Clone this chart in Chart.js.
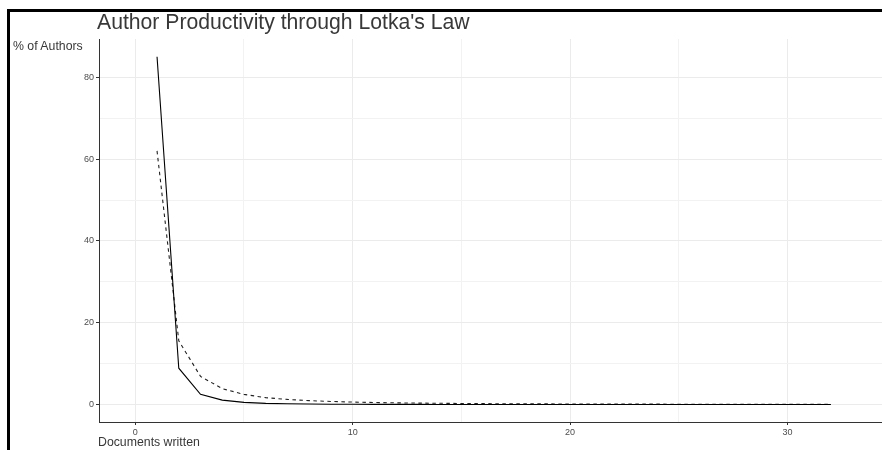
<!DOCTYPE html>
<html>
<head>
<meta charset="utf-8">
<script src="https://cdn.jsdelivr.net/npm/chart.js@4.4.1/dist/chart.umd.min.js"></script>
<style>
  html, body { margin: 0; padding: 0; background: #ffffff; }
  body { width: 882px; height: 450px; position: relative; overflow: hidden; font-family: "Liberation Sans", Arial, sans-serif; }
  #wrap { position: absolute; left: 0; top: 0; width: 882px; height: 450px; }
  #frame { position: absolute; left: 7px; top: 9px; width: 880px; height: 450px; border-top: 3px solid #000; border-left: 3px solid #000; pointer-events: none; }
  .txt { position: absolute; white-space: nowrap; line-height: 1; }
  #title { left: 97px; top: 11px; font-size: 21.2px; color: #383838; }
  #ytitle { left: 13px; top: 40px; font-size: 12.3px; color: #383838; }
  #xtitle { left: 98px; top: 436px; font-size: 12.3px; color: #383838; }
</style>
</head>
<body>
<div id="wrap"><canvas id="c" width="882" height="450"></canvas></div>
<div id="frame"></div>
<div class="txt" id="title">Author Productivity through Lotka's Law</div>
<div class="txt" id="ytitle">% of Authors</div>
<div class="txt" id="xtitle">Documents written</div>
<script>
// Documents written (x)
const documents = [1,2,3,4,5,6,7,8,9,10,11,12,13,14,15,16,17,18,19,20,21,22,23,24,25,26,27,28,29,30,31,32];
// Observed % of authors
const observed = [85.0, 8.9, 2.5, 1.1, 0.55, 0.3, 0.2, 0.15, 0.1, 0.08, 0.06, 0.05, 0.05, 0.04, 0.04, 0.03, 0.03, 0.03, 0.03, 0.03, 0.02, 0.02, 0.02, 0.02, 0.02, 0.02, 0.02, 0.02, 0.02, 0.02, 0.02, 0.02];
// Theoretical (Lotka) % of authors
const theoretical = [62.0, 15.6, 6.9, 3.9, 2.5, 1.7, 1.27, 0.97, 0.77, 0.62, 0.51, 0.43, 0.37, 0.32, 0.28, 0.24, 0.21, 0.19, 0.17, 0.16, 0.14, 0.13, 0.12, 0.11, 0.10, 0.09, 0.085, 0.08, 0.074, 0.069, 0.065, 0.061];
// Tick labels
const xTickLabels = [0, 10, 20, 30];
const yTickLabels = [0, 20, 40, 60, 80];
const xGridValues = [0, 5, 10, 15, 20, 25, 30];
const yGridValues = [0, 10, 20, 30, 40, 50, 60, 70, 80];

const pts = (ys) => documents.map((d, i) => ({ x: d, y: ys[i] }));

const isMajor = (arr) => (ctx) => ctx.tick && arr.includes(ctx.tick.value);

new Chart(document.getElementById('c'), {
  type: 'line',
  data: {
    datasets: [
      { label: 'Observed', data: pts(observed), borderColor: '#000000', borderWidth: 1.1, pointRadius: 0, tension: 0, fill: false },
      { label: 'Theoretical', data: pts(theoretical), borderColor: '#222222', borderWidth: 1.1, borderDash: [3.5, 3.5], pointRadius: 0, tension: 0, fill: false }
    ]
  },
  options: {
    responsive: false,
    animation: false,
    devicePixelRatio: 1,
    layout: { padding: { top: 39, left: 0, right: 0, bottom: 0 } },
    plugins: { legend: { display: false }, tooltip: { enabled: false }, title: { display: false } },
    scales: {
      x: {
        type: 'linear',
        min: -1.67,
        max: 34.35,
        afterBuildTicks: (s) => { s.ticks = xGridValues.map(v => ({ value: v })); },
        afterFit: (s) => { s.height = 28; },
        ticks: {
          includeBounds: false,
          autoSkip: false,
          maxRotation: 0,
          padding: 2,
          color: '#4d4d4d',
          font: { family: 'Liberation Sans, Arial, sans-serif', size: 9 },
          callback: (v) => xTickLabels.includes(v) ? String(v) : ''
        },
        grid: {
          color: (ctx) => isMajor(xTickLabels)(ctx) ? '#ebebeb' : '#f2f2f2',
          lineWidth: 1,
          tickLength: 3,
          tickColor: (ctx) => isMajor(xTickLabels)(ctx) ? '#333333' : 'rgba(0,0,0,0)'
        },
        border: { display: true, color: '#333333', width: 1 }
      },
      y: {
        type: 'linear',
        min: -4.25,
        max: 89.35,
        afterBuildTicks: (s) => { s.ticks = yGridValues.map(v => ({ value: v })); },
        afterFit: (s) => { s.width = 99; },
        ticks: {
          includeBounds: false,
          autoSkip: false,
          padding: 2,
          color: '#4d4d4d',
          font: { family: 'Liberation Sans, Arial, sans-serif', size: 9 },
          callback: (v) => yTickLabels.includes(v) ? String(v) : ''
        },
        grid: {
          color: (ctx) => isMajor(yTickLabels)(ctx) ? '#ebebeb' : '#f2f2f2',
          lineWidth: 1,
          tickLength: 3,
          tickColor: (ctx) => isMajor(yTickLabels)(ctx) ? '#333333' : 'rgba(0,0,0,0)'
        },
        border: { display: true, color: '#333333', width: 1 }
      }
    }
  }
});
</script>
</body>
</html>
